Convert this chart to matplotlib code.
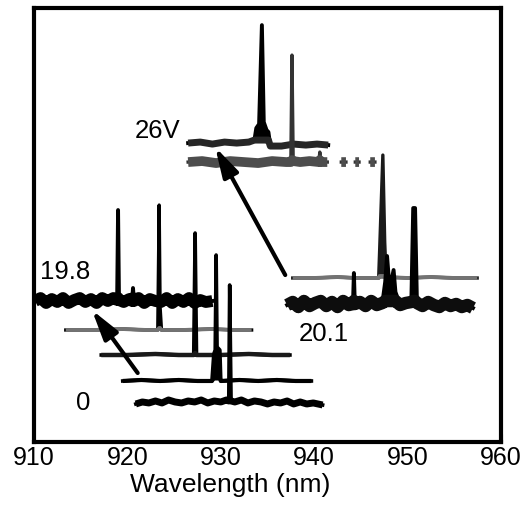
import numpy as np
import matplotlib
matplotlib.use('Agg')
import matplotlib.pyplot as plt

plt.rcParams['font.family'] = ['Liberation Sans', 'DejaVu Sans']

nan = np.nan

# spectra in waterfall order, front (0 V) to back (26 V)
# wavelength (nm) / offset intensity (arb. units)
wl_0 = [920.9, 921.6, 922.3, 923.0, 923.7, 924.4, 925.1, 925.8, 926.5, 927.2,
        927.9, 928.6, 929.3, 930.0, 930.6, 930.85, 930.95, 931.1, 931.5, 932.2,
        932.9, 933.6, 934.3, 935.0, 935.7, 936.4, 937.1, 937.8, 938.5, 939.2,
        939.9, 940.9]
int_0 = [38, 40, 39, 41, 39, 42, 40, 39, 41, 40,
         42, 39, 41, 40, 42, 41, 157, 41, 40, 42,
         39, 41, 40, 38, 40, 39, 41, 38, 40, 38,
         39, 37]

wl_1 = [919.5, 921.5, 923.5, 925.5, 927.5, 929.05, 929.25, 929.4, 929.5, 929.6,
        929.9, 930.0, 932.0, 934.0, 936.0, 938.0, 939.7]
int_1 = [61, 62, 61, 62, 61, 61, 88, 92, 187, 95,
         92, 61, 62, 61, 62, 61, 61]

wl_2 = [917.2, 920.0, 923.0, 925.5, 927.1, 927.25, 927.4, 930.0, 933.0, 935.5, 937.4]
int_2 = [87, 87, 88, 87, 87, 209, 87, 87, 88, 87, 87]

wl_3 = [913.4, 916.5, 919.5, 922.0, 923.25, 923.4, 923.5, 923.65, 926.0, 929.0, 931.5, 933.3]
int_3 = [112, 112, 113, 112, 112, 237, 135, 112, 112, 113, 112, 112]

wl_4 = [910.1, 910.7, 911.3, 911.9, 912.5, 913.1, 913.7, 914.3, 914.9, 915.5,
        916.1, 916.7, 917.3, 917.9, 918.5, 918.9, 919.0, 919.1, 919.6, 920.2,
        920.5, 920.6, 920.7, 921.2, 921.8, 922.4, 923.0, 923.6, 924.2, 924.8,
        925.4, 926.0, 926.6, 927.2, 927.8, 928.4, 929.1]
int_4 = [141, 144, 139, 143, 140, 144, 139, 142, 145, 140,
         143, 139, 144, 141, 145, 142, 232, 142, 140, 143,
         141, 154, 141, 144, 139, 143, 141, 140, 144, 139,
         143, 140, 144, 139, 142, 140, 141]

wl_5 = [937.1, 937.7, 938.3, 938.9, 939.5, 940.1, 940.7, 941.3, 941.9, 942.5,
        943.1, 943.7, 944.15, 944.25, 944.35, 944.9, 945.5, 946.1, 946.7, 947.3,
        947.6, 947.8, 948.0, 948.2, 948.5, 948.7, 949.2, 949.8, 950.4, 950.6,
        950.8, 951.0, 951.6, 952.2, 952.8, 953.4, 954.0, 954.6, 955.2, 955.8,
        956.4, 957.0]
int_5 = [137, 140, 135, 141, 136, 139, 143, 136, 140, 135,
         141, 137, 138, 169, 138, 140, 136, 141, 137, 139,
         160, 186, 162, 158, 172, 150, 137, 139, 140, 234,
         234, 139, 136, 140, 137, 135, 139, 136, 138, 135,
         137, 134]

wl_6 = [937.7, 940.0, 942.5, 944.5, 946.9, 947.0, 947.35, 947.55, 947.7, 950.0, 952.5, 955.0, 957.45]
int_6 = [164, 164, 165, 164, 164, 190, 287, 200, 165, 164, 165, 164, 164]

wl_7 = [926.5, 928.0, 929.5, 931.0, 932.5, 934.0, 935.5, 937.0, 937.5, 937.62,
        937.75, 938.5, 939.5, 940.5, 940.6, 940.7, 941.4, 941.5, 942.9, 943.4,
        943.5, 944.4, 944.8, 944.9, 946.0, 946.5]
int_7 = [280, 281, 279, 281, 280, 279, 281, 280, 280, 387,
         281, 280, 281, 280, 290, 280, 280, nan, 280, 280,
         nan, 280, 280, nan, 280, 280]

wl_8 = [926.5, 927.8, 929.1, 930.4, 931.7, 933.0, 933.6, 933.8, 934.1, 934.4,
        934.6, 934.9, 935.1, 935.3, 936.5, 937.8, 939.1, 940.3, 941.5]
int_8 = [299, 300, 298, 300, 299, 300, 302, 314, 318, 417,
         320, 312, 310, 296, 296, 298, 297, 298, 297]

spectra = [(wl_0, int_0), (wl_1, int_1), (wl_2, int_2), (wl_3, int_3), (wl_4, int_4),
           (wl_5, int_5), (wl_6, int_6), (wl_7, int_7), (wl_8, int_8)]

# voltage labels: text, wavelength, intensity
voltage_labels = [('0', 915.3, 39), ('19.8', 913.3, 170), ('20.1', 941.0, 108), ('26V', 923.2, 311)]

# arrows (tail -> head) showing increasing bias
arrows = [((921.1, 69), (916.2, 132)), ((936.9, 167), (929.4, 295))]

xticks = [910, 920, 930, 940, 950, 960]

# line look for each spectrum: baseline colour, baseline width, peak colour, peak width (pt)
styles = [('k', 5.0, 'k', 2.6), ('k', 3.0, 'k', 2.6), ('0.1', 3.2, 'k', 2.6),
          ('0.45', 2.8, 'k', 2.4), ('k', 8.5, 'k', 2.8), ('0.05', 9.0, 'k', 2.8),
          ('0.45', 2.8, '0.1', 2.4), ('0.3', 7.0, '0.2', 2.4), ('0.15', 5.0, 'k', 2.8)]

fig = plt.figure(figsize=(5.24, 5.08), dpi=100)
ax = fig.add_axes([0.0649, 0.130, 0.8912, 0.855])

n = len(spectra)
for i, ((x, y), (bc, band_lw, pc, peak_lw)) in enumerate(zip(spectra, styles)):
   x = np.array(x)
   y = np.array(y, dtype=float)
   z = 10 + 3 * (n - i)                       # front spectra on top
   base = np.nanmedian(y)
   ax.fill_between(x, 0, y, color='white', lw=0, zorder=z)   # hide what lies behind
   ax.fill_between(x, base, np.maximum(y, base), color=pc, lw=0, zorder=z + 1)
   ax.plot(x, y, color=pc, lw=peak_lw, zorder=z + 1)
   ax.plot(x, np.minimum(y, base + 2), color=bc, lw=band_lw, solid_capstyle='butt', zorder=z + 2)

for (tail, head) in arrows:
   ax.annotate('', xy=head, xytext=tail, zorder=60,
               arrowprops=dict(arrowstyle='-|>,head_length=0.9,head_width=0.25',
                               color='k', lw=3, mutation_scale=20, shrinkA=0, shrinkB=0))

for (txt, xl, yl) in voltage_labels:
   ax.text(xl, yl, txt, ha='center', va='center', fontsize=18.5, zorder=70)

ax.set_xlim(910, 960)
ax.set_ylim(0, 434.5)
ax.set_xticks(xticks)
ax.set_yticks([])
ax.tick_params(axis='x', direction='in', length=6, width=2.2, pad=3, labelsize=18)
for sp in ax.spines.values():
   sp.set_linewidth(3)
   sp.set_zorder(100)

ax.set_xlabel('Wavelength (nm)', fontsize=19)
ax.xaxis.set_label_coords(0.42, -0.072)

fig.savefig('out.png', dpi=100)
